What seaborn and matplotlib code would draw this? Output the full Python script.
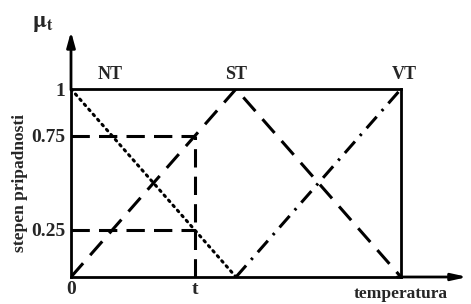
import matplotlib
matplotlib.use('Agg')
import matplotlib.pyplot as plt
import seaborn as sns

# membership functions (temperature normalised to 0..1)
x_nt = [0.0, 0.5]
nt = [1.0, 0.0]
x_st = [0.0, 0.5, 1.0]
st = [0.0, 1.0, 0.0]
x_vt = [0.5, 1.0]
vt = [0.0, 1.0]

t = 0.375
levels = [0.75, 0.25]
set_names = ['NT', 'ST', 'VT']
set_peaks = [0.12, 0.5, 1.01]
ytick_vals = [0.25, 0.75, 1.0]
ytick_labels = ['0.25', '0.75', '1']
xtick_vals = [0.0, t]
xtick_labels = ['0', 't']

sns.set_style('white')
plt.rcParams['font.family'] = ['Liberation Serif', 'DejaVu Serif']
plt.rcParams['mathtext.fontset'] = 'stix'

fig = plt.figure(figsize=(4.71, 3.04), dpi=100)
ax = fig.add_axes([71 / 471, 27 / 304, 330 / 471, 188 / 304])

lw = 2.2
sns.lineplot(x=x_nt, y=nt, ax=ax, color='black', lw=lw, estimator=None,
             linestyle=(0, (0.6, 1.6)), dash_capstyle='round')
sns.lineplot(x=x_st, y=st, ax=ax, color='black', lw=lw, estimator=None,
             linestyle=(0, (6, 3.5)))
sns.lineplot(x=x_vt, y=vt, ax=ax, color='black', lw=lw, estimator=None,
             linestyle=(0, (5, 2.5, 0.8, 2.5)))

# guide lines at t
for lv in levels:
    sns.lineplot(x=[0.0, t], y=[lv, lv], ax=ax, color='black', lw=lw,
                 estimator=None, linestyle=(0, (6, 3)))
sns.lineplot(x=[t, t], y=[0.0, max(levels)], ax=ax, color='black', lw=lw,
             estimator=None, sort=False, linestyle=(0, (6, 3)))

ax.set_xlim(0, 1)
ax.set_ylim(0, 1)
for s in ax.spines.values():
    s.set_color('black')
    s.set_linewidth(2)

ax.set_xticks(xtick_vals)
ax.set_xticklabels(xtick_labels, fontsize=14, fontweight='bold')
ax.set_yticks(ytick_vals)
ax.set_yticklabels(ytick_labels, fontsize=14, fontweight='bold')
ax.tick_params(axis='y', length=0, pad=4)
ax.tick_params(axis='x', length=0, pad=3)

# axis arrows
ax.annotate('', xy=(0, 1.32), xytext=(0, 0.98), xycoords='data',
            arrowprops=dict(arrowstyle='-|>,head_width=0.25,head_length=0.9',
                            color='black', lw=2), annotation_clip=False)
ax.annotate('', xy=(1.21, 0), xytext=(0.98, 0), xycoords='data',
            arrowprops=dict(arrowstyle='-|>,head_width=0.2,head_length=0.9',
                            color='black', lw=2), annotation_clip=False)

for name, px in zip(set_names, set_peaks):
    ax.text(px, 1.03, name, ha='center', va='bottom', fontsize=13,
            fontweight='bold')

ax.text(-0.085, 1.29, r'$\mathbf{\mu_t}$', ha='center', va='bottom', fontsize=17)
ax.text(1.0, -0.05, 'temperatura', ha='center', va='top', fontsize=12.5,
        fontweight='bold')
fig.text(20 / 471, 1 - 183 / 304, 'stepen pripadnosti', rotation=90,
         ha='center', va='center', fontsize=12.5, fontweight='bold')

fig.savefig('out.png', dpi=100)
